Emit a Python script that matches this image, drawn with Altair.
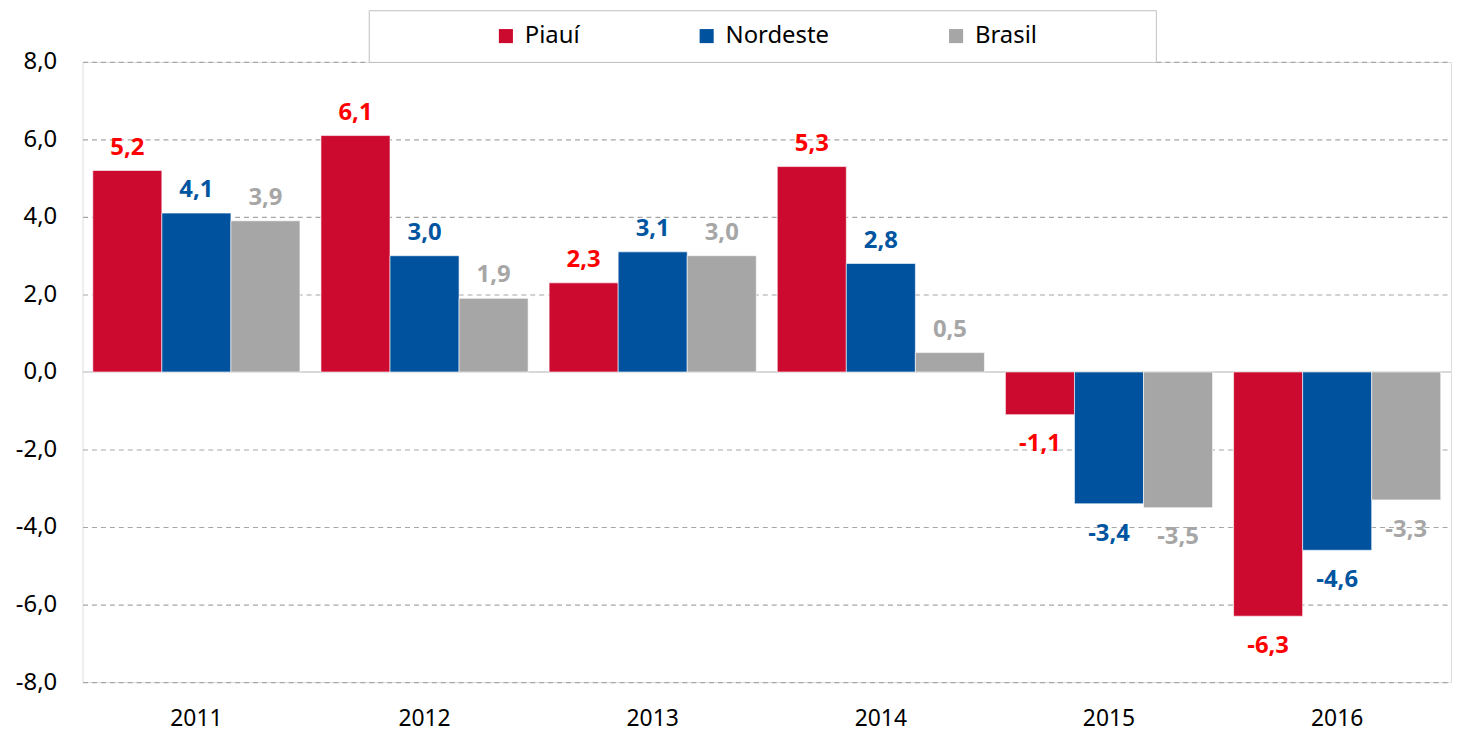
import altair as alt
import pandas as pd

years = ["2011", "2012", "2013", "2014", "2015", "2016"]
series = ["Piauí", "Nordeste", "Brasil"]
piaui = [5.2, 6.1, 2.3, 5.3, -1.1, -6.3]
nordeste = [4.1, 3.0, 3.1, 2.8, -3.4, -4.6]
brasil = [3.9, 1.9, 3.0, 0.5, -3.5, -3.3]
y_ticks = [-8, -6, -4, -2, 0, 2, 4, 6, 8]

bar_colors = ["#CC0A2F", "#00529F", "#A6A6A6"]
label_colors = {"Piauí": "#FF0000", "Nordeste": "#0055A0", "Brasil": "#A6A6A6"}

rows = []
for s, vals in zip(series, [piaui, nordeste, brasil]):
    for y, v in zip(years, vals):
        rows.append({"ano": y, "serie": s, "valor": v,
                     "rotulo": f"{v:.1f}".replace(".", ","),
                     "cor": label_colors[s]})
df = pd.DataFrame(rows)

FONT = "Noto Sans"

x_enc = alt.X("ano:N", sort=years, title=None,
              scale=alt.Scale(paddingInner=0.092, paddingOuter=0.045),
              axis=alt.Axis(labelAngle=0, domain=False, ticks=False, grid=False,
                            labelPadding=26, labelFontSize=23, labelColor="#000000",
                            labelFont=FONT, orient="bottom"))
xoff = alt.XOffset("serie:N", sort=series)
y_scale = alt.Scale(domain=[-8, 8], nice=False)

base = alt.Chart(df)

bars = base.mark_bar(stroke="white", strokeWidth=0.6).encode(
    x=x_enc,
    xOffset=xoff,
    y=alt.Y("valor:Q", scale=y_scale, title=None,
            axis=alt.Axis(values=y_ticks, domain=False, ticks=False,
                          labelExpr="replace(replace(format(datum.value, '.1f'), '.', ','), '\u2212', '-')",
                          labelFontSize=24, labelFont=FONT, labelColor="#000000",
                          labelPadding=26, grid=True, gridColor="#A6A6A6",
                          gridDash=[5, 4], gridWidth=1.2)),
    color=alt.Color("serie:N", sort=series,
                    scale=alt.Scale(domain=series, range=bar_colors),
                    legend=alt.Legend(title="\u00a0", titleOrient="right", titlePadding=106,
                                      titleFontSize=10,
                                      orient="none", direction="horizontal",
                                      legendX=288, legendY=-52, columns=3,
                                      columnPadding=3,
                                      padding=14, strokeColor="#BFBFBF",
                                      fillColor="white",
                                      symbolType="square",
                                      symbolSize=200, symbolStrokeWidth=0,
                                      symbolOffset=112,
                                      labelFontSize=24, labelFont=FONT,
                                      labelColor="#000000", labelOffset=7)),
)

zero = alt.Chart(pd.DataFrame({"z": [0]})).mark_rule(color="#D9D9D9", strokeWidth=2).encode(
    y=alt.Y("z:Q", scale=y_scale))

pos_labels = base.transform_filter("datum.valor >= 0").mark_text(
    font=FONT, fontSize=24, fontWeight="bold", baseline="middle", dy=-23).encode(
    x=x_enc, xOffset=xoff,
    y=alt.Y("valor:Q", scale=y_scale),
    text="rotulo:N",
    color=alt.Color("cor:N", scale=None),
)
neg_labels = base.transform_filter("datum.valor < 0").mark_text(
    font=FONT, fontSize=24, fontWeight="bold", baseline="middle", dy=30).encode(
    x=x_enc, xOffset=xoff,
    y=alt.Y("valor:Q", scale=y_scale),
    text="rotulo:N",
    color=alt.Color("cor:N", scale=None),
)

chart = alt.layer(zero, bars, pos_labels, neg_labels).properties(
    width=1377, height=624,
    autosize=alt.AutoSizeParams(type="none"),
    padding={"left": 75, "top": 52, "right": 2, "bottom": 51},
).configure_view(strokeWidth=0, strokeOpacity=0).configure(font=FONT, background="white")

chart.save("out.html", embed_options={"renderer": "svg", "actions": False})
